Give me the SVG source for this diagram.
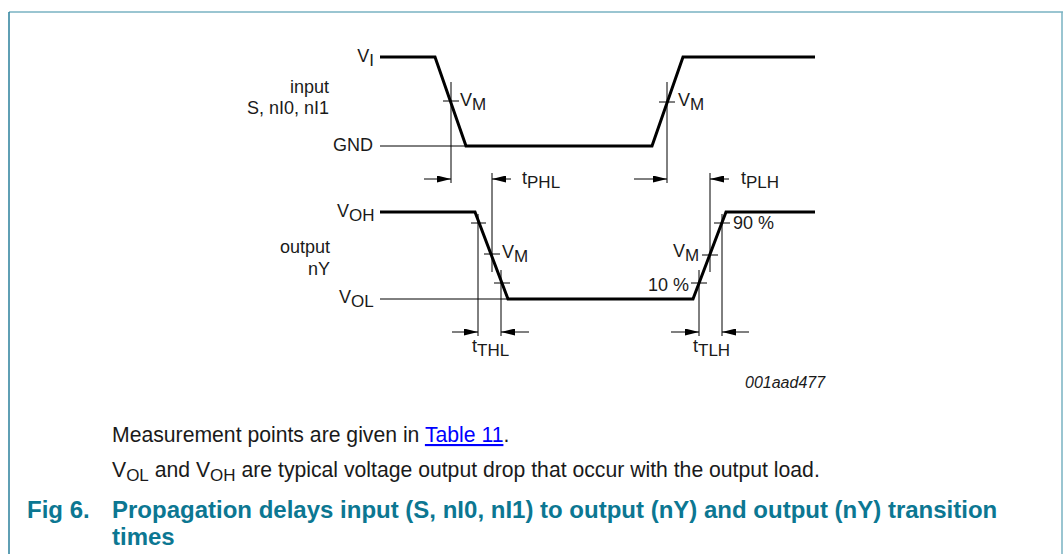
<svg xmlns="http://www.w3.org/2000/svg" width="1064" height="554" viewBox="0 0 1064 554">
<defs>
<style>
text{font-family:"Liberation Sans",Arial,sans-serif;fill:#1a1a1a}
.lb{font-size:18px}
.sb{font-size:17px}
.wave{fill:none;stroke:#000;stroke-width:3;stroke-linejoin:miter}
.thin{fill:none;stroke:#000;stroke-width:1}
.arr{fill:none;stroke:#000;stroke-width:1;marker-end:url(#ah)}
.body{font-size:21.2px}
.title{font-size:24px;font-weight:bold;fill:#0c7792}
</style>
<marker id="ah" viewBox="0 0 14 7" refX="14" refY="3.5" markerWidth="14" markerHeight="7" markerUnits="userSpaceOnUse" orient="auto">
<path d="M0,0 L14,3.5 L0,7 z" fill="#000"/>
</marker>
</defs>
<rect width="1064" height="554" fill="#fff"/>
<g id="frame">
<line x1="9" y1="12" x2="1063" y2="12" stroke="#78b2c2" stroke-width="1.5"/>
<line x1="1062" y1="12" x2="1062" y2="554" stroke="#78b2c2" stroke-width="1.5"/>
<line x1="9" y1="12" x2="9" y2="554" stroke="#2a7f9b" stroke-width="1.5"/>
</g>
<g id="input-wave">
<polyline class="wave" points="380,57 435,57 466,146 652,146 683,57 815,57"/>
<line class="thin" x1="380" y1="146" x2="466" y2="146"/>
</g>
<g id="output-wave">
<polyline class="wave" points="380,212 475,212 508,299 693,299 726,212 815,212"/>
<line class="thin" x1="380" y1="299" x2="508" y2="299"/>
</g>
<g id="connectors">
<line class="thin" x1="451" y1="82" x2="451" y2="183"/>
<line class="thin" x1="667" y1="82" x2="667" y2="183"/>
<line class="thin" x1="492" y1="173" x2="492" y2="272"/>
<line class="thin" x1="710" y1="173" x2="710" y2="272"/>
<line class="thin" x1="478" y1="214" x2="478" y2="336"/>
<line class="thin" x1="501" y1="270" x2="501" y2="336"/>
<line class="thin" x1="699" y1="270" x2="699" y2="336"/>
<line class="thin" x1="722" y1="214" x2="722" y2="336"/>
<line class="thin" x1="443" y1="101" x2="459" y2="101"/>
<line class="thin" x1="659" y1="102" x2="675" y2="102"/>
<line class="thin" x1="471" y1="223" x2="486" y2="223"/>
<line class="thin" x1="484" y1="254" x2="500" y2="254"/>
<line class="thin" x1="494" y1="283" x2="510" y2="283"/>
<line class="thin" x1="691" y1="283" x2="707" y2="283"/>
<line class="thin" x1="702" y1="255" x2="718" y2="255"/>
<line class="thin" x1="714" y1="223" x2="730" y2="223"/>
<line class="arr" x1="424" y1="179" x2="451" y2="179"/>
<line class="arr" x1="511" y1="179" x2="492" y2="179"/>
<line class="arr" x1="634" y1="179" x2="667" y2="179"/>
<line class="arr" x1="729" y1="179" x2="710" y2="179"/>
<line class="arr" x1="452" y1="332" x2="478" y2="332"/>
<line class="arr" x1="529" y1="332" x2="501" y2="332"/>
<line class="arr" x1="671" y1="332" x2="699" y2="332"/>
<line class="arr" x1="749" y1="332" x2="722" y2="332"/>
</g>
<g id="labels">
<text class="lb" x="374" y="62" text-anchor="end">V<tspan class="sb" dy="4">I</tspan></text>
<text class="lb" x="329" y="93" text-anchor="end">input</text>
<text class="lb" x="329" y="114" text-anchor="end">S, nI0, nI1</text>
<text class="lb" x="373" y="151" text-anchor="end">GND</text>
<text class="lb" x="460" y="106">V<tspan class="sb" dy="4">M</tspan></text>
<text class="lb" x="678" y="106">V<tspan class="sb" dy="4">M</tspan></text>
<text class="lb" x="522" y="184">t<tspan class="sb" dy="4">PHL</tspan></text>
<text class="lb" x="741" y="184">t<tspan class="sb" dy="4">PLH</tspan></text>
<text class="lb" x="337" y="217">V<tspan class="sb" dy="4">OH</tspan></text>
<text class="lb" x="330" y="253" text-anchor="end">output</text>
<text class="lb" x="330" y="275" text-anchor="end">nY</text>
<text class="lb" x="339" y="303">V<tspan class="sb" dy="4">OL</tspan></text>
<text class="lb" x="502" y="258">V<tspan class="sb" dy="4">M</tspan></text>
<text class="lb" x="673" y="257">V<tspan class="sb" dy="4">M</tspan></text>
<text class="lb" x="733" y="229">90 %</text>
<text class="lb" x="689" y="291" text-anchor="end">10 %</text>
<text class="lb" x="472" y="352">t<tspan class="sb" dy="4">THL</tspan></text>
<text class="lb" x="693" y="352">t<tspan class="sb" dy="4">TLH</tspan></text>
<text x="745" y="388" font-size="16" font-style="italic">001aad477</text>
</g>
<g id="notes">
<text class="body" x="112" y="442">Measurement points are given in <tspan fill="#0000ff" text-decoration="underline" style="fill:#0000ff">Table 11</tspan>.</text>
<text class="body" x="112" y="477">V<tspan font-size="17" dy="4">OL</tspan><tspan dy="-4"> and V</tspan><tspan font-size="17" dy="4">OH</tspan><tspan dy="-4"> are typical voltage output drop that occur with the output load.</tspan></text>
<text class="title" x="27" y="518">Fig 6.</text>
<text class="title" x="112" y="518">Propagation delays input (S, nI0, nI1) to output (nY) and output (nY) transition</text>
<text class="title" x="112" y="545">times</text>
</g>
</svg>
